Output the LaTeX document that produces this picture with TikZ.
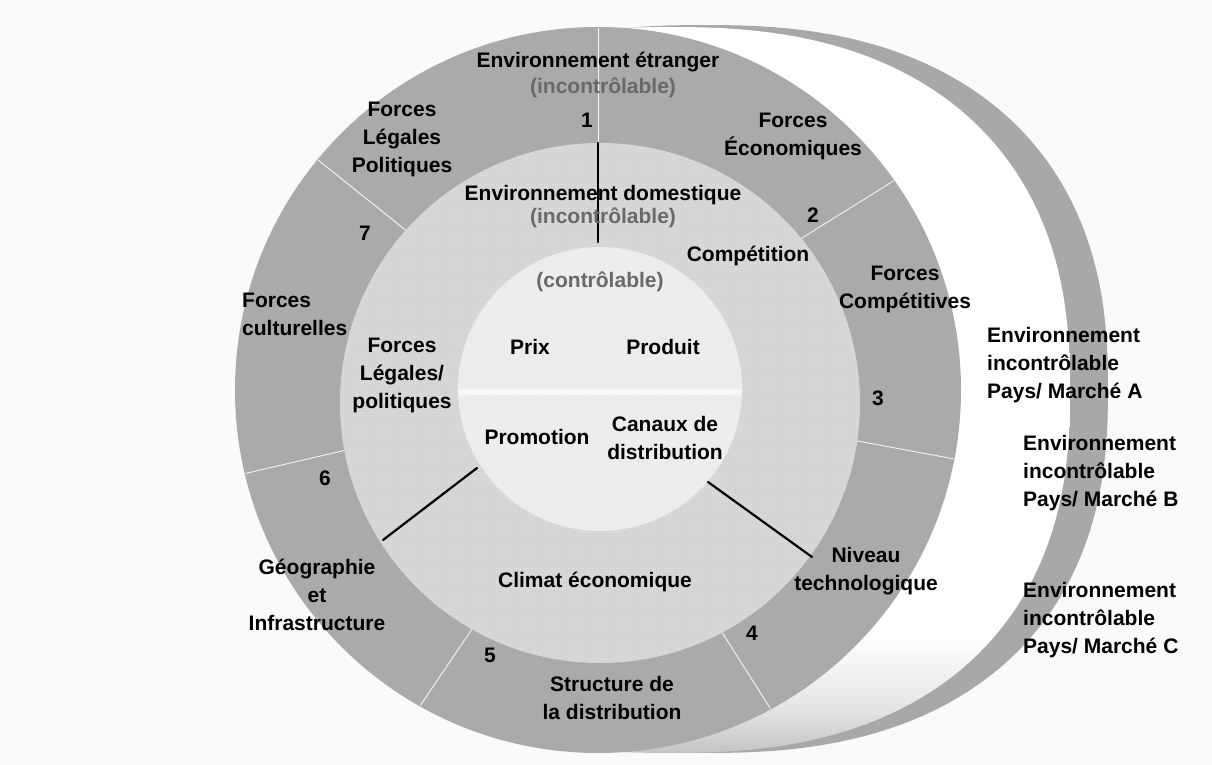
\documentclass[tikz,border=0pt]{standalone}
\usepackage{fontspec}
\setmainfont{Liberation Sans}
\usetikzlibrary{calc,patterns}

\definecolor{pagebg}{RGB}{250,250,250}
\definecolor{ringgray}{RGB}{170,170,170}
\definecolor{backgray}{RGB}{168,168,168}
\definecolor{domgray}{RGB}{212,212,212}
\definecolor{ctlgray}{RGB}{236,236,236}
\definecolor{parengray}{RGB}{105,105,105}
\definecolor{shadowgray}{RGB}{196,196,196}

% white disc fading to grey only along its lower rim
\pgfdeclareverticalshading{crescentshade}{100bp}{%
  color(0bp)=(shadowgray); color(25bp)=(shadowgray);
  color(28bp)=(white!55!shadowgray); color(33bp)=(white);
  color(100bp)=(white)}

\begin{document}
\begin{tikzpicture}[x=1pt,y=1pt,
  lbl/.style={font=\fontsize{21}{28}\selectfont\bfseries, align=center,
              inner sep=0pt, text=black},
  paren/.style={lbl, text=parengray},
  sidelbl/.style={lbl, align=left, anchor=west},
  divider/.style={draw=white!92!gray, line width=0.9pt},
  spoke/.style={draw=black, line width=2.2pt, line cap=round},
  grain/.style={pattern=crosshatch dots, pattern color=white, opacity=0.35}]

\useasboundingbox (0,0) rectangle (1212,765);
\fill[pagebg] (0,0) rectangle (1212,765);

% centres of the discs
\coordinate (cOuter) at (598,375);
\coordinate (cDom)   at (600,362);
\coordinate (cCtl)   at (600,376);

% discs of the other markets, stacked behind the main one
% (rounded squarish outlines, |x/a|^2.4 + |y/b|^2.4 = 1)
\fill[backgray]
  plot[domain=1:359, samples=180, variable=\t]
    ({705+403*cos(\t)*abs(cos(\t))^(-0.1667)},
     {376+364*sin(\t)*abs(sin(\t))^(-0.1667)}) -- cycle;
\shade[shading=crescentshade]
  plot[domain=1:359, samples=180, variable=\t]
    ({670+400*cos(\t)*abs(cos(\t))^(-0.1667)},
     {375+363*sin(\t)*abs(sin(\t))^(-0.1667)}) -- cycle;

% foreign environment ring
\fill[ringgray] (cOuter) circle[radius=363pt];

% sector borders of the outer ring
\coordinate (d1a) at (598,622); \coordinate (d1b) at (598,738);
\coordinate (d2a) at (810,532); \coordinate (d2b) at (895,585);
\coordinate (d3a) at (863,323); \coordinate (d3b) at (960,305);
\coordinate (d4a) at (725,128); \coordinate (d4b) at (770,57);
\coordinate (d5a) at (470,133); \coordinate (d5b) at (422,62);
\coordinate (d6a) at (342,314); \coordinate (d6b) at (243,291);
\coordinate (d7a) at (403,537); \coordinate (d7b) at (318,605);
\begin{scope}
  \clip (cOuter) circle[radius=362pt];
  \foreach \k in {1,...,7}
    \draw[divider] ($(d\k a)!-0.6!(d\k b)$) -- ($(d\k a)!1.6!(d\k b)$);
\end{scope}

% domestic environment disc
\fill[domgray] (cDom) circle[radius=260pt];
\fill[grain] (cDom) circle[radius=260pt];

% controllable core
\fill[ctlgray] (cCtl) circle[radius=142pt];
\fill[grain, opacity=0.25] (cCtl) circle[radius=142pt];
\begin{scope}
  \clip (cCtl) circle[radius=142pt];
  \draw[white!60!ctlgray, line width=6pt]
    ($(cCtl)+(-150,-3)$) -- ($(cCtl)+(150,-3)$);
\end{scope}

% spokes of the domestic ring
\coordinate (s1a) at (598,622); \coordinate (s1b) at (598,523);
\coordinate (s2a) at (383,225); \coordinate (s2b) at (477,297);
\coordinate (s3a) at (812,208); \coordinate (s3b) at (708,283);
\draw[spoke] (s1a) -- (s1b);
\draw[spoke] (s2a) -- (s2b);
\draw[spoke] (s3a) -- (s3b);

% outer ring labels
\node[lbl]   (etr)    at (598,703) {Environnement étranger};
\node[paren] (etrinc) at (603,677) {(incontrôlable)};
\node[lbl]   (n1)     at (587,645) {1};
\node[lbl]   (legpol) at (402,626) {Forces\\Légales\\Politiques};
\node[lbl]   (eco)    at (793,629) {Forces\\Économiques};
\node[lbl]   (n2)     at (813,550) {2};
\node[lbl]   (comp)   at (905,476) {Forces\\Compétitives};
\node[lbl]   (n3)     at (878,367) {3};
\node[lbl]   (tech)   at (866,194) {Niveau\\technologique};
\node[lbl]   (n4)     at (752,132) {4};
\node[lbl]   (struct) at (612,67)  {Structure de\\la distribution};
\node[lbl]   (n5)     at (490,110) {5};
\node[lbl]   (geo)    at (317,170) {Géographie\\et\\Infrastructure};
\node[lbl]   (n6)     at (325,287) {6};
\node[lbl, align=left, anchor=west] (cult) at (242,451) {Forces\\culturelles};
\node[lbl]   (n7)     at (365,532) {7};

% domestic ring labels
\node[lbl]   (dom)    at (603,570) {Environnement domestique};
\node[paren] (dominc) at (603,547) {(incontrôlable)};
\node[lbl]   (compet) at (748,509) {Compétition};
\node[lbl]   (dleg)   at (402,390) {Forces\\Légales/\\politiques};
\node[lbl]   (climat) at (595,183) {Climat économique};

% controllable core labels
\node[paren] (ctl)    at (600,483) {(contrôlable)};
\node[lbl]   (prix)   at (530,418) {Prix};
\node[lbl]   (prod)   at (663,418) {Produit};
\node[lbl]   (promo)  at (537,328) {Promotion};
\node[lbl]   (canaux) at (665,327) {Canaux de\\distribution};

% markets
\node[sidelbl] (mA) at (987,400)  {Environnement\\incontrôlable\\Pays/ Marché A};
\node[sidelbl] (mB) at (1023,292) {Environnement\\incontrôlable\\Pays/ Marché B};
\node[sidelbl] (mC) at (1023,145) {Environnement\\incontrôlable\\Pays/ Marché C};
\end{tikzpicture}
\end{document}
